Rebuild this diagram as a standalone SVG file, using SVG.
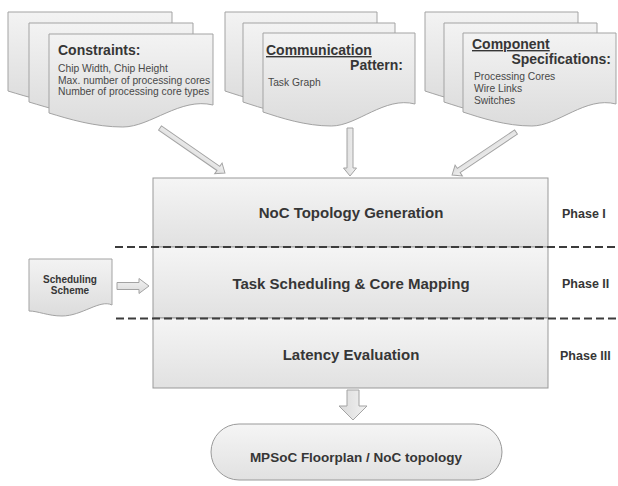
<svg xmlns="http://www.w3.org/2000/svg" width="618" height="486" viewBox="0 0 618 486">
  <defs>
    <linearGradient id="gDoc" x1="0" y1="0" x2="0" y2="1">
      <stop offset="0" stop-color="#f3f3f3"/>
      <stop offset="1" stop-color="#dcdcdc"/>
    </linearGradient>
    <linearGradient id="gBox" x1="0" y1="0" x2="0" y2="1">
      <stop offset="0" stop-color="#f5f5f5"/>
      <stop offset="1" stop-color="#e1e1e1"/>
    </linearGradient>
    <linearGradient id="gArrow" x1="0" y1="0" x2="0" y2="1">
      <stop offset="0" stop-color="#f2f2f2"/>
      <stop offset="1" stop-color="#dadada"/>
    </linearGradient>
  </defs>
  <style>
    .page { fill: url(#gDoc); stroke: #a3a3a3; stroke-width: 1; }
    .box { fill: url(#gBox); stroke: #999; stroke-width: 1; }
    .arrow { fill: url(#gArrow); stroke: #a3a3a3; stroke-width: 1; stroke-linejoin: miter; }
    .divider { stroke: #3c3c3c; stroke-width: 2; stroke-dasharray: 8 4; fill: none; }
    .head { font-family: "Liberation Sans", Arial, sans-serif; font-weight: bold; font-size: 14px; fill: #363636; }
    .body { font-family: "Liberation Sans", Arial, sans-serif; font-size: 10.3px; fill: #484848; }
    .title { font-family: "Liberation Sans", Arial, sans-serif; font-weight: bold; font-size: 15px; fill: #363636; text-anchor: middle; }
    .phase { font-family: "Liberation Sans", Arial, sans-serif; font-weight: bold; font-size: 12.5px; fill: #363636; }
    .small { font-family: "Liberation Sans", Arial, sans-serif; font-weight: bold; font-size: 10px; fill: #363636; text-anchor: middle; }
  </style>

  <!-- Input document stacks -->
  <g id="constraints">
    <path class="page" d="M8,12 H172 V83 C139.2,75 109.7,105 81.8,105 C53.9,105 27.7,97 8,91 Z"/>
    <path class="page" d="M29,23 H193 V94 C160.2,86 130.7,116 102.8,116 C74.9,116 48.7,108 29,102 Z"/>
    <path class="page" d="M49,34 H213 V105 C180.2,97 150.7,127 122.8,127 C94.9,127 68.7,119 49,113 Z"/>
    <text class="head" x="58" y="55">Constraints:</text>
    <text class="body" x="58" y="72">Chip Width, Chip Height</text>
    <text class="body" x="58" y="83.5">Max. number of processing cores</text>
    <text class="body" x="58" y="95">Number of processing core types</text>
  </g>

  <g id="communication">
    <path class="page" d="M225,12 H377 V83 C346.6,75 319.2,105 293.4,105 C267.6,105 243.2,97 225,91 Z"/>
    <path class="page" d="M243,23 H395 V94 C364.6,86 337.2,116 311.4,116 C285.6,116 261.2,108 243,102 Z"/>
    <path class="page" d="M263,33 H415 V104 C384.6,96 357.2,126 331.4,126 C305.6,126 281.2,118 263,112 Z"/>
    <text class="head" x="266" y="55" text-decoration="underline">Communication</text>
    <text class="head" x="403" y="70" text-anchor="end">Pattern:</text>
    <text class="body" x="268" y="86">Task Graph</text>
  </g>

  <g id="components">
    <path class="page" d="M425,12 H578 V83 C547.4,75 519.9,105 493.9,105 C467.8,105 443.4,97 425,91 Z"/>
    <path class="page" d="M444,23 H597 V94 C566.4,86 538.9,116 512.9,116 C486.8,116 462.4,108 444,102 Z"/>
    <path class="page" d="M463,33 H616 V104 C585.4,96 557.9,126 531.9,126 C505.8,126 481.4,118 463,112 Z"/>
    <text class="head" x="472" y="49" text-decoration="underline">Component</text>
    <text class="head" x="611" y="64" text-anchor="end">Specifications:</text>
    <text class="body" x="474" y="80">Processing Cores</text>
    <text class="body" x="474" y="92">Wire Links</text>
    <text class="body" x="474" y="103.5">Switches</text>
  </g>

  <g id="scheduling-scheme">
    <path class="page" d="M29,259 H112 V305 C100,299 82,316 62,316 C48,316 38,311 29,311 Z"/>
    <text class="small" x="70" y="282.5">Scheduling</text>
    <text class="small" x="70" y="294">Scheme</text>
  </g>

  <!-- Flow phases -->
  <g id="phase1">
    <rect class="box" x="153" y="178" width="395" height="69"/>
    <text class="title" x="351" y="218">NoC Topology Generation</text>
    <text class="phase" x="562" y="217.5">Phase I</text>
  </g>
  <g id="phase2">
    <rect class="box" x="153" y="247" width="395" height="71"/>
    <text class="title" x="351" y="288.5">Task Scheduling &amp; Core Mapping</text>
    <text class="phase" x="562" y="288">Phase II</text>
  </g>
  <g id="phase3">
    <rect class="box" x="153" y="318" width="395" height="70"/>
    <text class="title" x="351" y="359.5">Latency Evaluation</text>
    <text class="phase" x="560" y="359.5">Phase III</text>
  </g>

  <g id="output">
    <rect class="box" x="211" y="424" width="291" height="56" rx="28" ry="28" stroke="#a3a3a3"/>
    <text class="title" x="356" y="461.5" style="font-size:13.5px">MPSoC Floorplan / NoC topology</text>
  </g>

  <!-- Phase separators -->
  <g id="separators">
    <line class="divider" x1="115" y1="247" x2="618" y2="247"/>
    <line class="divider" x1="116" y1="318.5" x2="618" y2="318.5"/>
  </g>

  <!-- Connectors -->
  <g id="connectors">
    <path class="arrow" transform="translate(160,128) rotate(34.7)" d="M0,-2.5 H71 V-6.5 L79,0 L71,6.5 V2.5 H0 Z"/>
    <path class="arrow" transform="translate(350,128) rotate(90)" d="M0,-3 H40 V-6.5 L48,0 L40,6.5 V3 H0 Z"/>
    <path class="arrow" transform="translate(516,132) rotate(146.1)" d="M0,-2.5 H69 V-6.5 L77,0 L69,6.5 V2.5 H0 Z"/>
    <path class="arrow" transform="translate(117,286)" d="M0,-3.5 H22 V-7.5 L32,0 L22,7.5 V3.5 H0 Z"/>
    <path class="arrow" transform="translate(353,390) rotate(90)" d="M0,-6 H16 V-14 L30,0 L16,14 V6 H0 Z"/>
  </g>
</svg>
